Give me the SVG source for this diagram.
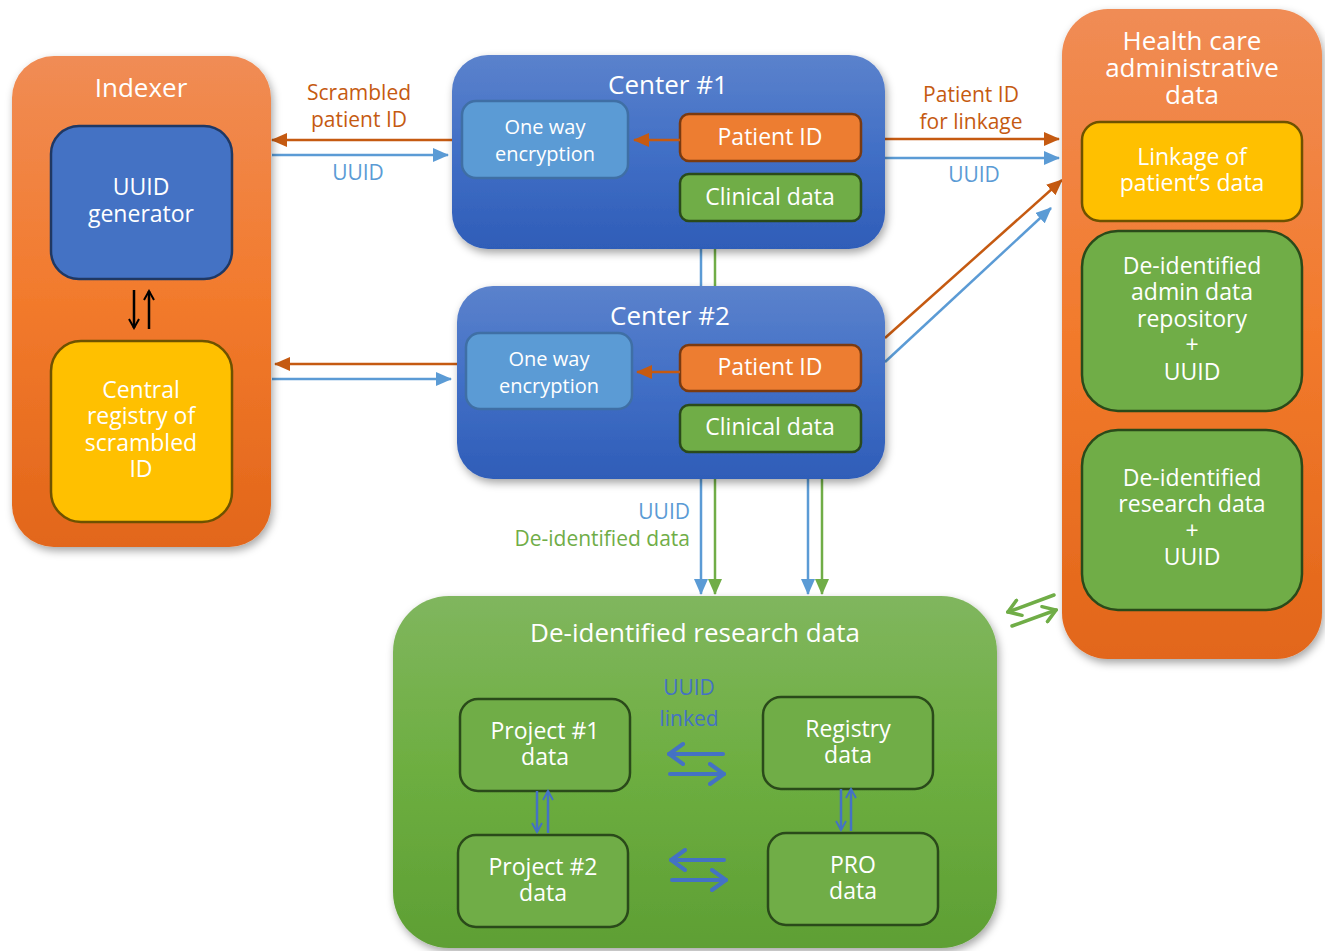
<svg xmlns="http://www.w3.org/2000/svg" width="1325" height="951" viewBox="0 0 1325 951">
<defs>
  <linearGradient id="gOrange" x1="0" y1="0" x2="0" y2="1">
    <stop offset="0" stop-color="#F08C55"/><stop offset="0.5" stop-color="#F27A2C"/><stop offset="1" stop-color="#E2661A"/>
  </linearGradient>
  <linearGradient id="gBlue" x1="0" y1="0" x2="0" y2="1">
    <stop offset="0" stop-color="#5B82CC"/><stop offset="0.5" stop-color="#416FC6"/><stop offset="1" stop-color="#2F5DB8"/>
  </linearGradient>
  <linearGradient id="gGreen" x1="0" y1="0" x2="0" y2="1">
    <stop offset="0" stop-color="#80B65E"/><stop offset="0.5" stop-color="#6DAE40"/><stop offset="1" stop-color="#5E9F34"/>
  </linearGradient>
  <filter id="sh" x="-10%" y="-10%" width="120%" height="120%">
    <feDropShadow dx="2" dy="4" stdDeviation="4" flood-color="#000" flood-opacity="0.35"/>
  </filter>
  <marker id="aO" markerWidth="10" markerHeight="10" refX="9" refY="5" orient="auto" markerUnits="userSpaceOnUse" viewBox="0 0 10 10">
    <path d="M0,0 L10,5 L0,10 Z" fill="#C55A11"/>
  </marker>
  <marker id="aOL" markerWidth="16" markerHeight="14" refX="15" refY="7" orient="auto" markerUnits="userSpaceOnUse" viewBox="0 0 16 14">
    <path d="M0,0 L16,7 L0,14 Z" fill="#C55A11"/>
  </marker>
  <marker id="aB" markerWidth="16" markerHeight="14" refX="15" refY="7" orient="auto" markerUnits="userSpaceOnUse" viewBox="0 0 16 14">
    <path d="M0,0 L16,7 L0,14 Z" fill="#5B9BD5"/>
  </marker>
  <marker id="aG" markerWidth="16" markerHeight="14" refX="15" refY="7" orient="auto" markerUnits="userSpaceOnUse" viewBox="0 0 16 14">
    <path d="M0,0 L16,7 L0,14 Z" fill="#70AD47"/>
  </marker>
  <marker id="vK" markerWidth="12" markerHeight="12" refX="10" refY="6" orient="auto" markerUnits="userSpaceOnUse" viewBox="0 0 12 12">
    <path d="M1,1 L10,6 L1,11" fill="none" stroke="#000" stroke-width="2"/>
  </marker>
  <marker id="vB" markerWidth="12" markerHeight="12" refX="10" refY="6" orient="auto" markerUnits="userSpaceOnUse" viewBox="0 0 12 12">
    <path d="M1,1 L10,6 L1,11" fill="none" stroke="#4472C4" stroke-width="2"/>
  </marker>
  <marker id="vB2" markerWidth="18" markerHeight="24" refX="16" refY="12" orient="auto" markerUnits="userSpaceOnUse" viewBox="0 0 18 24">
    <path d="M2,2 L16,12 L2,22" fill="none" stroke="#4472C4" stroke-width="4" stroke-linecap="round"/>
  </marker>
  <marker id="vG" markerWidth="16" markerHeight="20" refX="14" refY="10" orient="auto" markerUnits="userSpaceOnUse" viewBox="0 0 16 20">
    <path d="M2,2 L14,10 L2,18" fill="none" stroke="#70AD47" stroke-width="3.5" stroke-linecap="round"/>
  </marker>
  <style>
    text { font-family: "Open Sans", "Liberation Sans", sans-serif; text-anchor: middle; fill: #fff; }
    .t26 { font-size: 26px; }
    .t24 { font-size: 23px; }
    .t20 { font-size: 20px; }
    .lbl { font-size: 21px; }
    .or { fill: #C55A11; }
    .bl { fill: #5B9BD5; }
    .gr { fill: #70AD47; }
    .db { fill: #4472C4; }
    .inB { fill: #4472C4; stroke: #1F3864; stroke-width: 2.5; }
    .inY { fill: #FFC000; stroke: #6E5200; stroke-width: 2.5; }
    .inO { fill: #ED7D31; stroke: #7A3A10; stroke-width: 2.5; }
    .inG { fill: #70AD47; stroke: #2A4A1A; stroke-width: 2.5; }
    .inL { fill: #5B9BD5; stroke: #3F6FA5; stroke-width: 2.5; }
  </style>
</defs>

<g id="connectors" fill="none">
  <!-- between centers -->
  <line x1="701" y1="245" x2="701" y2="290" stroke="#5B9BD5" stroke-width="2.5"/>
  <line x1="715" y1="245" x2="715" y2="290" stroke="#70AD47" stroke-width="2.5"/>
  <!-- Indexer <-> Center 1 -->
  <line x1="452" y1="140" x2="272" y2="140" stroke="#C55A11" stroke-width="2.5" marker-end="url(#aOL)"/>
  <line x1="272" y1="155" x2="448" y2="155" stroke="#5B9BD5" stroke-width="2.5" marker-end="url(#aB)"/>
  <!-- Indexer <-> Center 2 -->
  <line x1="457" y1="364" x2="275" y2="364" stroke="#C55A11" stroke-width="2.5" marker-end="url(#aOL)"/>
  <line x1="272" y1="379" x2="451" y2="379" stroke="#5B9BD5" stroke-width="2.5" marker-end="url(#aB)"/>
  <!-- Center 1 -> Health care -->
  <line x1="885" y1="139" x2="1059" y2="139" stroke="#C55A11" stroke-width="2.5" marker-end="url(#aOL)"/>
  <line x1="885" y1="158" x2="1059" y2="158" stroke="#5B9BD5" stroke-width="2.5" marker-end="url(#aB)"/>
  <!-- Center 2 -> Health care -->
  <line x1="885" y1="338" x2="1062" y2="180" stroke="#C55A11" stroke-width="2.5" marker-end="url(#aOL)"/>
  <line x1="885" y1="362" x2="1051" y2="208" stroke="#5B9BD5" stroke-width="2.5" marker-end="url(#aB)"/>
  <!-- Center 2 -> research data -->
  <line x1="701" y1="479" x2="701" y2="594" stroke="#5B9BD5" stroke-width="2.5" marker-end="url(#aB)"/>
  <line x1="715" y1="479" x2="715" y2="594" stroke="#70AD47" stroke-width="2.5" marker-end="url(#aG)"/>
  <line x1="808" y1="479" x2="808" y2="594" stroke="#5B9BD5" stroke-width="2.5" marker-end="url(#aB)"/>
  <line x1="822" y1="479" x2="822" y2="594" stroke="#70AD47" stroke-width="2.5" marker-end="url(#aG)"/>
  <!-- research <-> health care -->
  <line x1="1054" y1="595" x2="1008" y2="612" stroke="#70AD47" stroke-width="3.5" stroke-linecap="round" marker-end="url(#vG)"/>
  <line x1="1012" y1="626" x2="1056" y2="610" stroke="#70AD47" stroke-width="3.5" stroke-linecap="round" marker-end="url(#vG)"/>
</g>

<g id="indexer">
  <rect x="12" y="56" width="259" height="491" rx="42" fill="url(#gOrange)" filter="url(#sh)"/>
  <text x="141" y="97" class="t26">Indexer</text>
</g>
<g id="uuid-generator">
  <rect x="51" y="126" width="181" height="153" rx="28" class="inB"/>
  <text x="141" y="195" class="t24">UUID</text>
  <text x="141" y="222" class="t24">generator</text>
</g>
<g id="indexer-arrows" fill="none">
  <line x1="134" y1="290" x2="134" y2="328" stroke="#000" stroke-width="2.5" marker-end="url(#vK)"/>
  <line x1="149" y1="329" x2="149" y2="291" stroke="#000" stroke-width="2.5" marker-end="url(#vK)"/>
</g>
<g id="central-registry">
  <rect x="51" y="341" width="181" height="181" rx="30" class="inY"/>
  <text x="141" y="398" class="t24">Central</text>
  <text x="141" y="424" class="t24">registry of</text>
  <text x="141" y="451" class="t24">scrambled</text>
  <text x="141" y="477" class="t24">ID</text>
</g>

<g id="center1">
  <rect x="452" y="55" width="433" height="194" rx="36" fill="url(#gBlue)" filter="url(#sh)"/>
  <text x="668" y="94" class="t26">Center #1</text>
  <rect x="462" y="101" width="166" height="77" rx="14" class="inL"/>
  <text x="545" y="134" class="t20">One way</text>
  <text x="545" y="161" class="t20">encryption</text>
  <rect x="680" y="114" width="181" height="47" rx="9" class="inO"/>
  <text x="770" y="145" class="t24">Patient ID</text>
  <rect x="680" y="174" width="181" height="47" rx="9" class="inG"/>
  <text x="770" y="205" class="t24">Clinical data</text>
  <line x1="680" y1="140" x2="634" y2="140" stroke="#C55A11" stroke-width="2.5" marker-end="url(#aOL)"/>
</g>

<g id="center2">
  <rect x="457" y="286" width="428" height="193" rx="36" fill="url(#gBlue)" filter="url(#sh)"/>
  <text x="670" y="325" class="t26">Center #2</text>
  <rect x="466" y="333" width="166" height="76" rx="14" class="inL"/>
  <text x="549" y="366" class="t20">One way</text>
  <text x="549" y="393" class="t20">encryption</text>
  <rect x="680" y="345" width="181" height="46" rx="9" class="inO"/>
  <text x="770" y="375" class="t24">Patient ID</text>
  <rect x="680" y="405" width="181" height="47" rx="9" class="inG"/>
  <text x="770" y="435" class="t24">Clinical data</text>
  <line x1="680" y1="372" x2="637" y2="372" stroke="#C55A11" stroke-width="2.5" marker-end="url(#aOL)"/>
</g>

<g id="labels">
  <text x="359" y="100" class="lbl or">Scrambled</text>
  <text x="359" y="127" class="lbl or">patient ID</text>
  <text x="358" y="180" class="lbl bl">UUID</text>
  <text x="971" y="102" class="lbl or">Patient ID</text>
  <text x="971" y="129" class="lbl or">for linkage</text>
  <text x="974" y="182" class="lbl bl">UUID</text>
  <text x="690" y="519" class="lbl bl" style="text-anchor:end">UUID</text>
  <text x="690" y="546" class="lbl gr" style="text-anchor:end">De-identified data</text>
</g>

<g id="health-care">
  <rect x="1062" y="9" width="260" height="650" rx="46" fill="url(#gOrange)" filter="url(#sh)"/>
  <text x="1192" y="50" class="t26">Health care</text>
  <text x="1192" y="77" class="t26">administrative</text>
  <text x="1192" y="104" class="t26">data</text>
</g>
<g id="linkage">
  <rect x="1082" y="122" width="220" height="99" rx="18" class="inY"/>
  <text x="1192" y="165" class="t24">Linkage of</text>
  <text x="1192" y="191" class="t24">patient’s data</text>
</g>
<g id="admin-repo">
  <rect x="1082" y="231" width="220" height="180" rx="36" class="inG"/>
  <text x="1192" y="274" class="t24">De-identified</text>
  <text x="1192" y="300" class="t24">admin data</text>
  <text x="1192" y="327" class="t24">repository</text>
  <text x="1192" y="353" class="t24">+</text>
  <text x="1192" y="380" class="t24">UUID</text>
</g>
<g id="research-repo">
  <rect x="1082" y="430" width="220" height="180" rx="36" class="inG"/>
  <text x="1192" y="486" class="t24">De-identified</text>
  <text x="1192" y="512" class="t24">research data</text>
  <text x="1192" y="539" class="t24">+</text>
  <text x="1192" y="565" class="t24">UUID</text>
</g>

<g id="research-data">
  <rect x="393" y="596" width="604" height="352" rx="56" fill="url(#gGreen)" filter="url(#sh)"/>
  <text x="695" y="642" class="t26">De-identified research data</text>
  <text x="689" y="695" class="lbl db">UUID</text>
  <text x="689" y="726" class="lbl db">linked</text>
</g>
<g id="project1">
  <rect x="460" y="699" width="170" height="92" rx="18" class="inG"/>
  <text x="545" y="739" class="t24">Project #1</text>
  <text x="545" y="765" class="t24">data</text>
</g>
<g id="registry">
  <rect x="763" y="697" width="170" height="92" rx="18" class="inG"/>
  <text x="848" y="737" class="t24">Registry</text>
  <text x="848" y="763" class="t24">data</text>
</g>
<g id="project2">
  <rect x="458" y="835" width="170" height="92" rx="18" class="inG"/>
  <text x="543" y="875" class="t24">Project #2</text>
  <text x="543" y="901" class="t24">data</text>
</g>
<g id="pro">
  <rect x="768" y="833" width="170" height="92" rx="18" class="inG"/>
  <text x="853" y="873" class="t24">PRO</text>
  <text x="853" y="899" class="t24">data</text>
</g>
<g id="inner-connectors" fill="none" stroke="#4472C4">
  <line x1="723" y1="754" x2="669" y2="754" stroke-width="4" stroke-linecap="round" marker-end="url(#vB2)"/>
  <line x1="670" y1="774" x2="724" y2="774" stroke-width="4" stroke-linecap="round" marker-end="url(#vB2)"/>
  <line x1="724" y1="860" x2="671" y2="860" stroke-width="4" stroke-linecap="round" marker-end="url(#vB2)"/>
  <line x1="672" y1="880" x2="726" y2="880" stroke-width="4" stroke-linecap="round" marker-end="url(#vB2)"/>
  <line x1="537" y1="791" x2="537" y2="832" stroke-width="2.5" marker-end="url(#vB)"/>
  <line x1="548" y1="833" x2="548" y2="791" stroke-width="2.5" marker-end="url(#vB)"/>
  <line x1="841" y1="789" x2="841" y2="830" stroke-width="2.5" marker-end="url(#vB)"/>
  <line x1="851" y1="831" x2="851" y2="789" stroke-width="2.5" marker-end="url(#vB)"/>
</g>
</svg>
